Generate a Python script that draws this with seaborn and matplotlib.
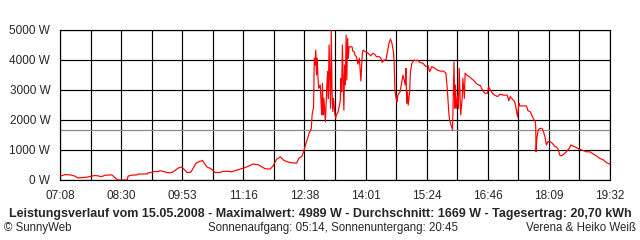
import matplotlib
matplotlib.use("Agg")
import matplotlib.pyplot as plt
import seaborn as sns
import pandas as pd

# minutes after 07:08 and power in W
minutes = [0, 7, 14, 20, 24, 30, 38, 43, 47, 51, 56, 61, 70, 72, 77, 78, 91, 92, 97, 104,
           106, 118, 119, 124, 126, 133, 135, 139, 145, 149, 153, 160, 165, 167, 172, 177,
           184, 189, 193, 195, 199, 204, 210, 216, 221, 228, 232, 239, 246, 253, 261, 268,
           277, 284, 288, 293, 298, 303, 311, 320, 323, 327, 330, 332, 335, 337, 340, 341,
           343, 344, 345, 346, 347, 348, 349, 350, 352, 354, 355, 356, 357, 359, 361, 362,
           363, 364, 366, 367, 368, 369, 370, 372, 373, 374, 376, 379, 380, 381, 382, 384,
           385, 386, 387, 388, 389, 390, 391, 395, 396, 398, 399, 401, 403, 405, 407, 409,
           410, 413, 417, 420, 423, 426, 428, 432, 434, 436, 438, 441, 443, 445, 447, 449,
           451, 452, 453, 455, 456, 457, 460, 462, 464, 467, 468, 469, 470, 471, 473, 474,
           476, 479, 482, 483, 487, 491, 495, 498, 500, 503, 506, 510, 514, 519, 522, 523,
           524, 526, 527, 529, 531, 532, 533, 534, 535, 536, 538, 539, 540, 542, 544, 545,
           547, 548, 550, 554, 557, 559, 563, 566, 569, 570, 573, 575, 578, 580, 582, 585,
           588, 592, 595, 600, 603, 605, 607, 609, 611, 615, 617, 618, 619, 620, 621, 622,
           627, 631, 633, 636, 638, 640, 643, 643.5, 644, 645, 647, 649, 652, 654, 656, 658,
           660, 663, 666, 669, 672, 674, 676, 678, 682, 685, 689, 691, 694, 698, 700, 703,
           708, 712, 717, 721, 726, 730, 735, 739, 744]
watts = [130, 180, 170, 130, 70, 80, 100, 130, 150, 140, 110, 160, 170, 130, 20, 0, 0, 130, 160, 170,
         200, 200, 240, 250, 280, 280, 310, 290, 250, 240, 270, 400, 430, 380, 250, 260,
         560, 620, 650, 560, 430, 380, 250, 250, 290, 290, 270, 330, 380, 440, 530, 510,
         380, 360, 460, 690, 770, 650, 580, 560, 720, 780, 970, 1170, 1390, 1560, 1720, 2170,
         2440, 4060, 3830, 4330, 3500, 4060, 3390, 3060, 3170, 2170, 3220, 2170, 2720, 1940, 3170, 3610,
         2720, 4500, 2390, 4989, 2940, 2280, 2720, 2170, 2060, 2170, 2260, 2610, 3390, 2940, 4500, 2330,
         3830, 3170, 4830, 3330, 4720, 4060, 4440, 4440, 4300, 4280, 4170, 4110, 3860, 4060, 3300, 4220,
         4330, 4280, 4220, 4140, 4220, 4190, 4110, 4110, 4060, 3920, 4000, 4000, 4280, 4560, 4700, 4560,
         4280, 3940, 3000, 2670, 2610, 2830, 2940, 3220, 3500, 3170, 3720, 2560, 2940, 2500, 2940, 3610,
         3890, 4000, 3970, 4000, 3920, 3890, 3780, 3810, 3610, 3780, 3740, 3670, 3630, 3630, 3560, 3280,
         3000, 2220, 2000, 1830, 1670, 2830, 3940, 2390, 3170, 2390, 2830, 2390, 3720, 2170, 2720, 3390,
         2720, 3560, 3500, 3440, 3370, 3330, 3220, 3170, 3140, 3060, 2940, 2890, 2890, 3110, 3000, 2890,
         2830, 2780, 2860, 2830, 2830, 2830, 2640, 2780, 2720, 2610, 2390, 2220, 2110, 2390, 2560, 2470,
         2470, 2470, 2310, 2280, 2170, 2060, 1940, 1780, 940, 1390, 1670, 1720, 1720, 1610, 1440, 1170,
         1280, 1280, 1220, 1130, 1090, 1020, 830, 800, 870, 940, 1060, 1170, 1130, 1090, 1060, 1020,
         980, 940, 940, 870, 800, 720, 670, 580, 530]

tick_labels = ["07:08", "08:30", "09:53", "11:16", "12:38", "14:01", "15:24", "16:46", "18:09", "19:32"]
y_ticks = [0, 1000, 2000, 3000, 4000, 5000]
average = 1669
span = 744

df = pd.DataFrame({"t": minutes, "w": watts})

sns.set_style("white")
plt.rcParams["font.family"] = ["Liberation Sans", "DejaVu Sans"]

fig = plt.figure(figsize=(6.4, 2.4), dpi=100)
ax = fig.add_axes([60 / 640, 60 / 240, 550 / 640, 150 / 240])

ax.axhline(average, color="#8c8c8c", lw=0.9, zorder=2)
sns.lineplot(data=df, x="t", y="w", ax=ax, color="#ff0000", lw=0.85,
             estimator=None, sort=False, zorder=3)

ax.set_xlim(0, span)
ax.set_ylim(0, 5000)
xt = [span * i / 18 for i in range(19)]
ax.set_xticks(xt)
ax.set_xticklabels([tick_labels[i // 2] if i % 2 == 0 else "" for i in range(19)], fontsize=8.5)
ax.set_yticks(y_ticks)
ax.set_yticklabels([f"{v} W" for v in y_ticks], fontsize=8.5)
ax.grid(True, color="black", lw=0.85, zorder=1)
ax.set_axisbelow(True)
ax.tick_params(axis="both", direction="out", length=5, width=0.85, color="black", pad=2)
for s in ax.spines.values():
    s.set_color("black")
    s.set_linewidth(0.85)
ax.set_xlabel("")
ax.set_ylabel("")

fig.text(320 / 640, 1 - 214 / 240,
         "Leistungsverlauf vom 15.05.2008 - Maximalwert: 4989 W - Durchschnitt: 1669 W - Tagesertrag: 20,70 kWh",
         ha="center", va="center", fontsize=9.0, fontweight="bold")
fig.text(4 / 640, 1 - 228 / 240, "© SunnyWeb", ha="left", va="center", fontsize=8.3)
fig.text(333 / 640, 1 - 228 / 240, "Sonnenaufgang: 05:14, Sonnenuntergang: 20:45",
         ha="center", va="center", fontsize=8.3)
fig.text(636 / 640, 1 - 228 / 240, "Verena & Heiko Weiß", ha="right", va="center", fontsize=8.3)

fig.savefig("out.png", dpi=100, facecolor="white")
